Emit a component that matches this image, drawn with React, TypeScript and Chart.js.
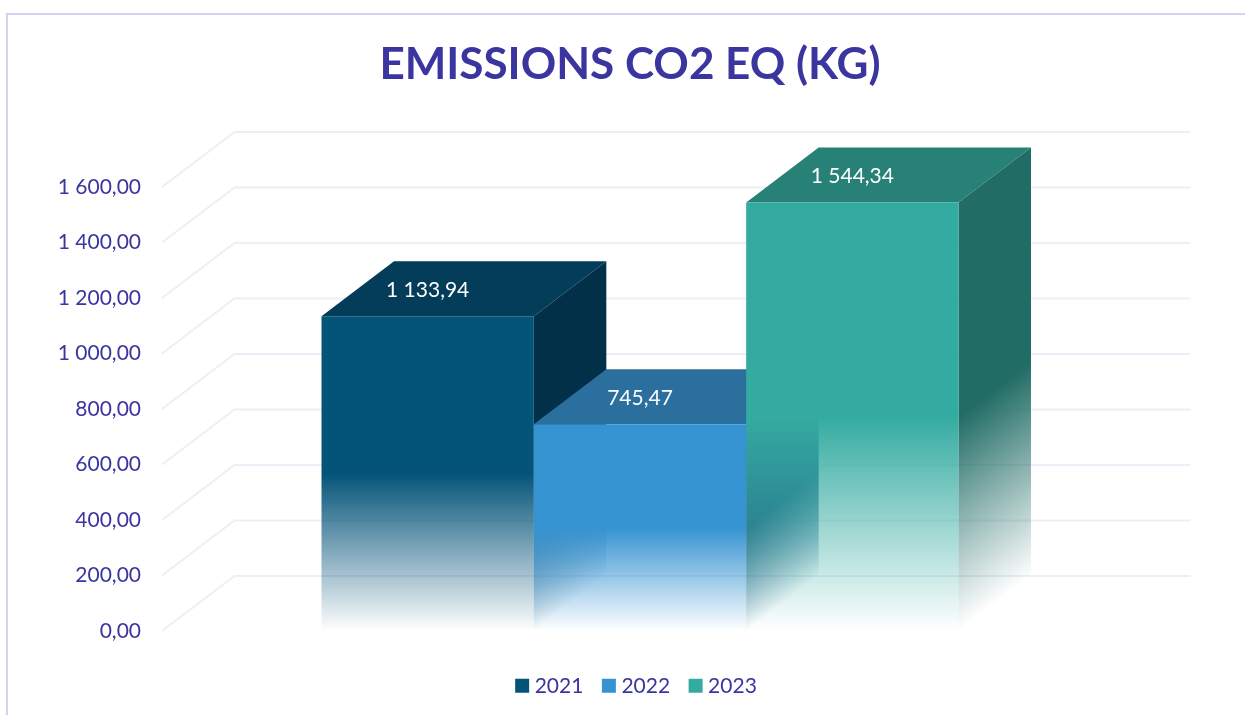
import React, { useEffect, useRef } from "react";
import { Chart, registerables } from "chart.js";

Chart.register(...registerables);

const categories = ["Emissions"];
const seriesNames = ["2021", "2022", "2023"];
const values2021 = [1133.94];
const values2022 = [745.47];
const values2023 = [1544.34];
const frontColors = ["#045378", "#3693d2", "#34aba1"];
const topColors = ["#033d5a", "#2b6f9e", "#278177"];
const sideColors = ["#023049", "#245d85", "#216c65"];
const INK = "#3b35a0";
const GRID = "#eeeef8";
const DX = 72.5;
const DY = 55;
const FADE_START = 0.5;
const TITLE_CENTER_X = 630;
const LEGEND_CENTER_X = 638.5;
const LEGEND_CENTER_Y = 679;

const fmt = (v: number) => {
  const [a, b] = v.toFixed(2).split(".");
  return a.replace(/\B(?=(\d{3})+$)/g, " ") + "," + b;
};

const rgba = (hex: string, a: number) => {
  const n = parseInt(hex.slice(1), 16);
  return `rgba(${(n >> 16) & 255},${(n >> 8) & 255},${n & 255},${a})`;
};

const depthPlugin = {
  id: "depth3d",
  afterLayout(chart: any) {
    const t = chart.titleBlock;
    const ts = TITLE_CENTER_X - (t.left + t.right) / 2;
    t.left += ts;
    t.right += ts;
    const l = chart.legend;
    const ls = LEGEND_CENTER_X - (l.left + l.right) / 2;
    l.left += ls;
    l.right += ls;
    const lv = LEGEND_CENTER_Y - (l.top + l.bottom) / 2;
    l.top += lv;
    l.bottom += lv;
  },
  beforeDatasetsDraw(chart: any) {
    const { ctx, chartArea, scales } = chart;
    const y = scales.y;
    ctx.save();
    ctx.strokeStyle = GRID;
    ctx.lineWidth = 2;
    y.ticks.forEach((t: any) => {
      const p = y.getPixelForValue(t.value);
      ctx.beginPath();
      ctx.moveTo(chartArea.left, p);
      ctx.lineTo(chartArea.left + DX, p - DY);
      ctx.lineTo(chartArea.right + DX, p - DY);
      ctx.stroke();
    });
    ctx.restore();
    chart.data.datasets.forEach((_: any, i: number) => {
      const meta = chart.getDatasetMeta(i);
      meta.data.forEach((el: any) => {
        const { x, y: top, base, width } = el.getProps(["x", "y", "base", "width"]);
        const l = x - width / 2;
        const r = x + width / 2;
        // top face
        ctx.fillStyle = topColors[i];
        ctx.beginPath();
        ctx.moveTo(l, top);
        ctx.lineTo(l + DX, top - DY);
        ctx.lineTo(r + DX, top - DY);
        ctx.lineTo(r, top);
        ctx.closePath();
        ctx.fill();
        // side face, fading along the diagonal foot
        const start = top + (base - top) * FADE_START;
        const len = Math.hypot(DX, DY);
        const nx = DY / len;
        const ny = DX / len;
        const proj = (base - start) * ny;
        const g = ctx.createLinearGradient(r, start, r + proj * nx, start + proj * ny);
        g.addColorStop(0, sideColors[i]);
        g.addColorStop(1, rgba(sideColors[i], 0));
        ctx.fillStyle = g;
        ctx.beginPath();
        ctx.moveTo(r, top);
        ctx.lineTo(r + DX, top - DY);
        ctx.lineTo(r + DX, base - DY);
        ctx.lineTo(r, base);
        ctx.closePath();
        ctx.fill();
        el.draw(ctx, chartArea);
      });
    });
    return false;
  },
  afterDraw(chart: any) {
    const { ctx } = chart;
    ctx.save();
    ctx.fillStyle = "#ffffff";
    ctx.font = "21px Lato";
    ctx.textAlign = "center";
    ctx.textBaseline = "middle";
    chart.data.datasets.forEach((ds: any, i: number) => {
      chart.getDatasetMeta(i).data.forEach((el: any, j: number) => {
        const { x, y } = el.getProps(["x", "y"]);
        ctx.fillText(fmt(ds.data[j]), x, y - 26);
      });
    });
    ctx.restore();
  },
};

const frontFill = (i: number) => (c: any) => {
  if (c.type !== "data") return frontColors[i];
  const y = c.chart.scales.y;
  if (!y) return frontColors[i];
  const top = y.getPixelForValue(c.raw);
  const base = y.getPixelForValue(0);
  if (!Number.isFinite(top) || !Number.isFinite(base)) return frontColors[i];
  const g = c.chart.ctx.createLinearGradient(0, top, 0, base);
  g.addColorStop(0, frontColors[i]);
  g.addColorStop(FADE_START, frontColors[i]);
  g.addColorStop(1, rgba(frontColors[i], 0));
  return g;
};

export default function App() {
  const ref = useRef<HTMLCanvasElement>(null);
  useEffect(() => {
    const chart = new Chart(ref.current as HTMLCanvasElement, {
      type: "bar",
      plugins: [depthPlugin],
      data: {
        labels: categories,
        datasets: [values2021, values2022, values2023].map((data, i) => ({
          label: seriesNames[i],
          data,
          backgroundColor: frontFill(i),
          borderWidth: 0,
          categoryPercentage: 0.6663,
          barPercentage: 1,
        })),
      },
      options: {
        animation: false,
        responsive: false,
        layout: { padding: { left: 30, right: 127, top: 0, bottom: 29.5 } },
        scales: {
          x: { display: false },
          y: {
            min: 0,
            max: 1600,
            afterFit: (s: any) => {
              s.width = 132;
            },
            border: { display: false },
            grid: { display: false, drawTicks: false },
            ticks: {
              stepSize: 200,
              padding: 21,
              color: INK,
              font: { family: "Lato", size: 21 },
              callback: (v: any) => fmt(Number(v)),
            },
          },
        },
        plugins: {
          title: {
            display: true,
            text: "EMISSIONS CO2 EQ (KG)",
            color: INK,
            font: { family: "Lato", size: 44, weight: "bold" },
            padding: { top: 38.5, bottom: 95.7 },
          },
          legend: {
            position: "bottom",
            labels: {
              color: INK,
              boxWidth: 4,
              boxHeight: 4,
              font: { family: "Lato", size: 21 },
              padding: 23.5,
              generateLabels: (chart: any) =>
                Chart.defaults.plugins.legend.labels.generateLabels(chart).map((it: any) => ({
                  ...it,
                  fillStyle: frontColors[it.datasetIndex],
                  strokeStyle: frontColors[it.datasetIndex],
                  lineWidth: 10,
                })),
            },
          },
          tooltip: { enabled: false },
        },
      },
    });
    return () => chart.destroy();
  }, []);
  return (
    <div style={{ position: "absolute", left: 0, top: 0, width: 1245, height: 715, overflow: "hidden", background: "#fff" }}>
      <canvas ref={ref} width={1245} height={715} style={{ display: "block" }} />
      <div
        style={{
          position: "absolute",
          left: 6,
          top: 13,
          width: 1300,
          height: 800,
          borderLeft: "2px solid #d3d2f2",
          borderTop: "2px solid #d3d2f2",
        }}
      />
    </div>
  );
}
